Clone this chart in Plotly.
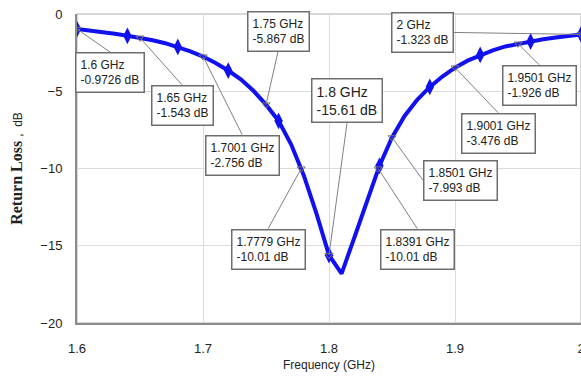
import plotly.graph_objects as go

# ---- data ----
freq_ghz = [1.60, 1.61, 1.62, 1.63, 1.64, 1.65, 1.66, 1.67, 1.68, 1.69,
            1.70, 1.71, 1.72, 1.73, 1.74, 1.75, 1.76, 1.77, 1.78, 1.79,
            1.80, 1.81, 1.82, 1.83, 1.84, 1.85, 1.86, 1.87, 1.88, 1.89,
            1.90, 1.91, 1.92, 1.93, 1.94, 1.95, 1.96, 1.97, 1.98, 1.99, 2.00]
return_loss_db = [-0.9726, -1.06, -1.16, -1.28, -1.41, -1.543, -1.70, -1.89, -2.13, -2.42,
                  -2.756, -3.17, -3.66, -4.23, -4.97, -5.867, -6.92, -8.45, -10.45, -12.9,
                  -15.61, -16.8, -14.5, -12.2, -9.83, -7.993, -6.60, -5.55, -4.72, -4.05,
                  -3.476, -3.02, -2.65, -2.35, -2.10, -1.926, -1.78, -1.64, -1.52, -1.42, -1.323]

marker_freq = freq_ghz[::4]
marker_db = return_loss_db[::4]

ann_freq = [1.6, 1.65, 1.75, 1.7001, 1.8, 1.7779, 1.8391, 1.8501, 1.9001, 1.9501, 2.0]
ann_db = [-0.9726, -1.543, -5.867, -2.756, -15.61, -10.01, -10.01, -7.993, -3.476, -1.926, -1.323]

x_ticks = [1.6, 1.7, 1.8, 1.9, 2.0]
x_tick_text = ["1.6", "1.7", "1.8", "1.9", "2"]
y_ticks = [0, -5, -10, -15, -20]

# ---- layout of the marker boxes (pixel offsets of arrow tail, anchors, font size) ----
ann_layout = [
    (33, 23, "center", "top", 12),
    (42, 47, "center", "top", 12),
    (12, -53, "center", "bottom", 12),
    (39, 78, "center", "top", 12),
    (18, -132, "center", "bottom", 14),
    (-33, 60, "center", "top", 12),
    (39, 60, "center", "top", 12),
    (31, 43, "left", "middle", 12),
    (43, 45, "center", "top", 12),
    (21, 21, "center", "top", 12),
    (-127, -2, "right", "middle", 12),
]

FONT = "Arial, Liberation Sans, sans-serif"

fig = go.Figure()
fig.add_trace(go.Scatter(x=freq_ghz, y=return_loss_db, mode="lines",
                         line=dict(color="#1010f0", width=4), hoverinfo="skip",
                         showlegend=False))
fig.add_trace(go.Scatter(x=marker_freq, y=marker_db, mode="markers",
                         marker=dict(symbol="diamond-tall", size=12, color="#1010f0"),
                         showlegend=False))
fig.add_trace(go.Scatter(x=ann_freq, y=ann_db, mode="markers",
                         marker=dict(symbol="triangle-down-open", size=7,
                                     color="#777777", line=dict(width=1)),
                         showlegend=False))

annotations = []
for f, d, (ax, ay, xa, ya, fs) in zip(ann_freq, ann_db, ann_layout):
    text = f"{f:g} GHz<br>{d:g} dB"
    annotations.append(dict(x=f, y=d, xref="x", yref="y", text=text, showarrow=True,
                            ax=ax, ay=ay, axref="pixel", ayref="pixel",
                            xanchor=xa, yanchor=ya, align="left",
                            arrowcolor="#808080", arrowhead=0, arrowwidth=1,
                            font=dict(family=FONT, size=fs, color="#222222"),
                            bgcolor="white", bordercolor="#6e6e6e", borderwidth=1.5,
                            borderpad=4))

fig.update_layout(
    width=590, height=379,
    margin=dict(l=77, r=9, t=14, b=56),
    paper_bgcolor="white", plot_bgcolor="white",
    font=dict(family=FONT, size=13, color="#222222"),
    annotations=annotations,
    xaxis=dict(range=[1.6, 2.0], tickvals=x_ticks, ticktext=x_tick_text,
               automargin=False,
               showgrid=True, gridcolor="#dcdcdc", gridwidth=1,
               showline=True, linecolor="#8c8c8c", linewidth=2, mirror=False,
               ticks="outside", ticklen=12, tickcolor="rgba(0,0,0,0)",
               zeroline=False,
               title=dict(text="Frequency (GHz)", font=dict(family=FONT, size=12),
                          standoff=6)),
    yaxis=dict(range=[-20, 0], tickvals=y_ticks,
               automargin=False,
               showgrid=True, gridcolor="#dcdcdc", gridwidth=1,
               showline=True, linecolor="#8c8c8c", linewidth=2, mirror=False,
               ticks="outside", ticklen=10, tickcolor="rgba(0,0,0,0)",
               zeroline=False,
               title=dict(text="<b>Return Loss</b> <span style=\"font-family:Arial,Liberation Sans;font-size:12px;font-weight:normal\">,  dB</span>",
                          font=dict(family="Times New Roman, Liberation Serif, serif", size=16),
                          standoff=14)),
    shapes=[dict(type="rect", xref="paper", yref="paper", x0=0, y0=0, x1=1, y1=1,
                 line=dict(color="#b0b0b0", width=1), layer="below")],
)

fig.write_html("out.html",
               config={"displayModeBar": False},
               post_script="document.body.style.margin='0';document.body.style.overflow='hidden';")
